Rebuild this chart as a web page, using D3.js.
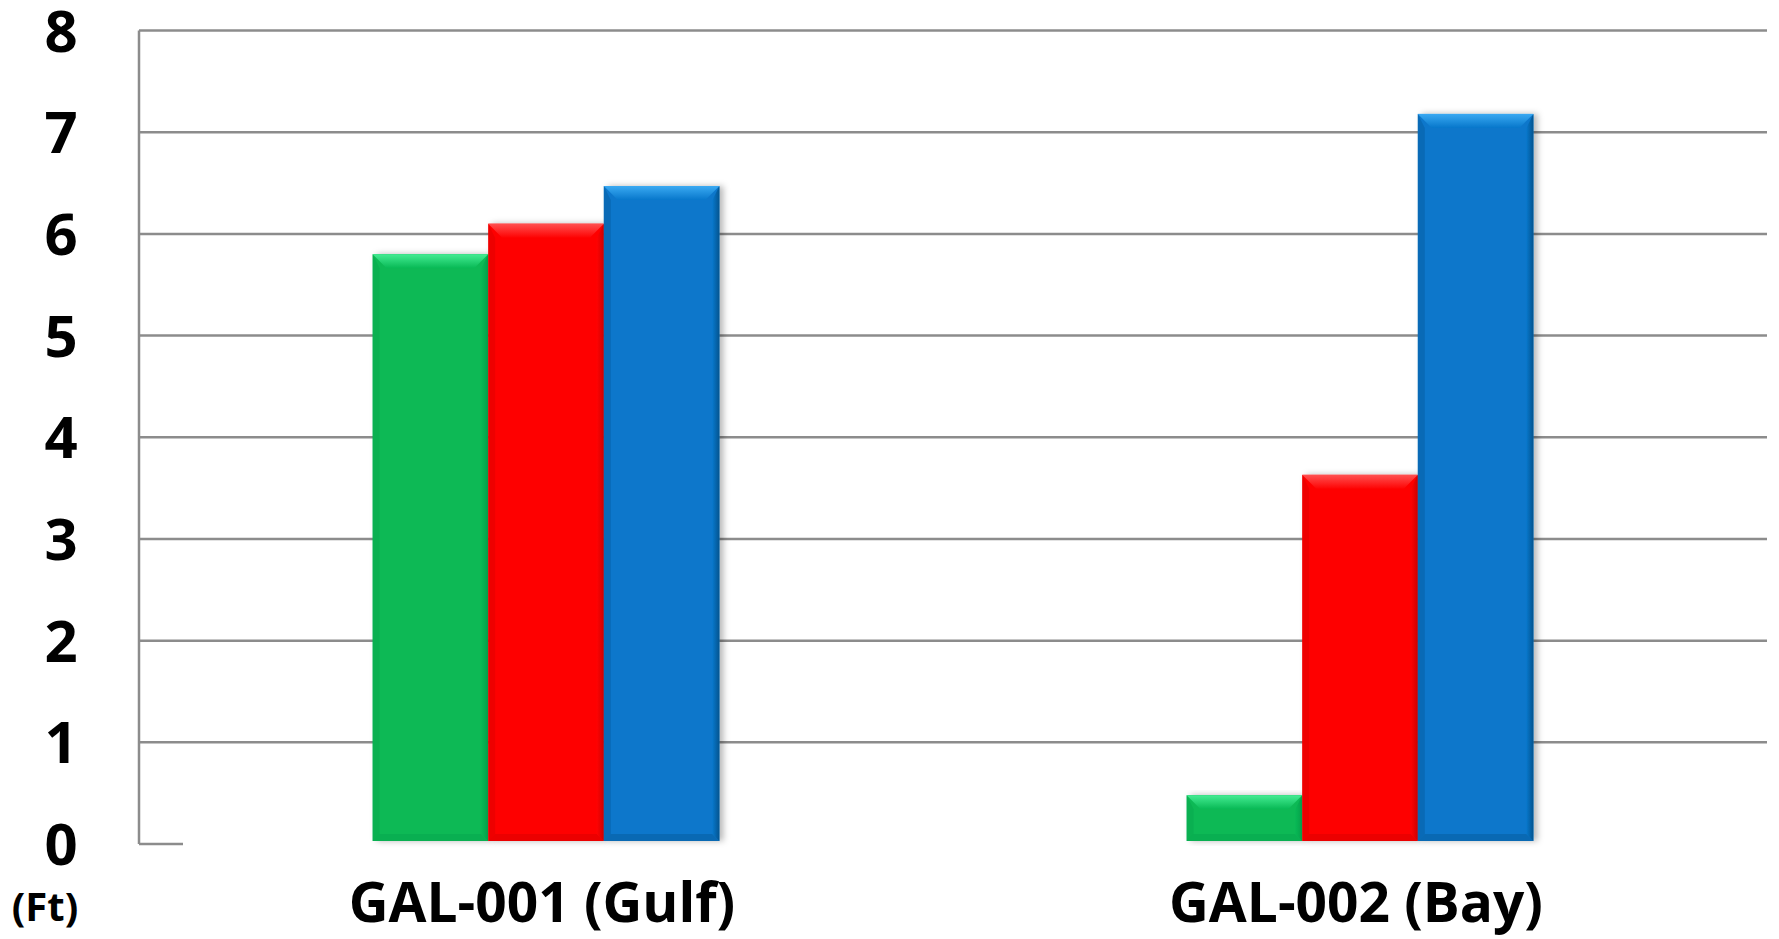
<!DOCTYPE html>
<html>
<head>
<meta charset="utf-8">
<script src="https://cdn.jsdelivr.net/npm/d3@7/dist/d3.min.js"></script>
<style>
  html, body { margin: 0; padding: 0; background: #ffffff; }
  svg { display: block; }
  text { font-family: "Open Sans", "DejaVu Sans", sans-serif; font-weight: 700; fill: #000; }
</style>
</head>
<body>
<svg id="chart" width="1779" height="939"></svg>
<script>
// Water level by gauge station (feet)
const stations = ["GAL-001 (Gulf)", "GAL-002 (Bay)"];
const seriesNames = ["Series A", "Series B", "Series C"];
const seriesA = [5.8, 0.48];
const seriesB = [6.1, 3.63];
const seriesC = [6.47, 7.18];
const yTicks = [0, 1, 2, 3, 4, 5, 6, 7, 8];
const unitLabel = "(Ft)";

const colors = {
  "Series A": { base: "#08b955", light: "#45ec93", dark: "#06a04a" },
  "Series B": { base: "#fe0303", light: "#ff5050", dark: "#d00000" },
  "Series C": { base: "#0777cb", light: "#3aa9f2", dark: "#04548f" }
};

const values = { "Series A": seriesA, "Series B": seriesB, "Series C": seriesC };

const svg = d3.select("#chart");
const plot = { left: 139, right: 1767, top: 30.5, bottom: 844 };

const x0 = d3.scaleBand().domain(stations)
  .range([plot.left, plot.right]).paddingInner(0.574).paddingOuter(0.287);
const x1 = d3.scaleBand().domain(seriesNames).range([0, x0.bandwidth()]).padding(0);
const y = d3.scaleLinear().domain([0, 8]).range([plot.bottom, plot.top]);

const defs = svg.append("defs");
const shadow = defs.append("filter").attr("id", "shadow")
  .attr("x", "-10%").attr("y", "-10%").attr("width", "130%").attr("height", "120%");
shadow.append("feDropShadow").attr("dx", 4).attr("dy", 0).attr("stdDeviation", 3)
  .attr("flood-color", "#000").attr("flood-opacity", 0.28);

seriesNames.forEach((s, i) => {
  const c = colors[s];
  const gTop = defs.append("linearGradient").attr("id", "top" + i)
    .attr("x1", 0).attr("y1", 0).attr("x2", 0).attr("y2", 1);
  gTop.append("stop").attr("offset", "0%").attr("stop-color", c.light);
  gTop.append("stop").attr("offset", "100%").attr("stop-color", c.base);
  const gRight = defs.append("linearGradient").attr("id", "right" + i)
    .attr("x1", 0).attr("y1", 0).attr("x2", 1).attr("y2", 0);
  gRight.append("stop").attr("offset", "0%").attr("stop-color", c.base);
  gRight.append("stop").attr("offset", "100%").attr("stop-color", c.dark);
});

// Horizontal gridlines
svg.append("g").selectAll("line").data(yTicks.filter(d => d > 0)).join("line")
  .attr("x1", plot.left).attr("x2", plot.right)
  .attr("y1", d => y(d)).attr("y2", d => y(d))
  .attr("stroke", "#8c8c8c").attr("stroke-width", 2.5);

// Vertical axis line and short baseline stub
svg.append("line").attr("x1", plot.left).attr("x2", plot.left)
  .attr("y1", y(8)).attr("y2", y(0))
  .attr("stroke", "#8c8c8c").attr("stroke-width", 2.5);
svg.append("line").attr("x1", plot.left).attr("x2", plot.left + 44)
  .attr("y1", y(0)).attr("y2", y(0))
  .attr("stroke", "#8c8c8c").attr("stroke-width", 2.5);

// Y tick labels
svg.append("g").selectAll("text").data(yTicks).join("text")
  .attr("x", 61).attr("y", d => y(d) + 21)
  .attr("text-anchor", "middle").attr("font-size", 58)
  .text(d => d);

// Bevelled bars
const bevelTop = 14, bevelSide = 7;
const groups = svg.append("g").selectAll("g").data(stations).join("g")
  .attr("transform", d => `translate(${x0(d)},0)`);

groups.each(function (st, si) {
  const g = d3.select(this);
  seriesNames.forEach((s, i) => {
    const v = values[s][si];
    const xa = x1(s), xb = x1(s) + x1.bandwidth();
    const yt = y(v), yb = y(0) - 3;
    const c = colors[s];
    const bar = g.append("g");
    bar.append("rect").attr("x", xa).attr("y", yt)
      .attr("width", xb - xa).attr("height", yb - yt)
      .attr("fill", c.base).attr("filter", "url(#shadow)");
    const bt = Math.min(bevelTop, (yb - yt) / 2);
    // left edge
    bar.append("polygon").attr("points",
      [[xa, yt], [xa + bevelSide, yt + bt], [xa + bevelSide, yb - bevelSide], [xa, yb]].join(" "))
      .attr("fill", c.dark).attr("opacity", 0.35);
    // bottom edge
    bar.append("polygon").attr("points",
      [[xa, yb], [xa + bevelSide, yb - bevelSide], [xb - bevelSide, yb - bevelSide], [xb, yb]].join(" "))
      .attr("fill", c.dark).attr("opacity", 0.4);
    // right edge
    bar.append("polygon").attr("points",
      [[xb, yt], [xb, yb], [xb - bevelSide, yb - bevelSide], [xb - bevelSide, yt + bt]].join(" "))
      .attr("fill", `url(#right${i})`);
    // top highlight
    bar.append("polygon").attr("points",
      [[xa, yt], [xb, yt], [xb - bevelSide * 2, yt + bt], [xa + bevelSide * 2, yt + bt]].join(" "))
      .attr("fill", `url(#top${i})`);
  });
});

// Category labels
svg.append("g").selectAll("text").data(stations).join("text")
  .attr("x", d => x0(d) + x0.bandwidth() / 2 - 4).attr("y", 922)
  .attr("text-anchor", "middle").attr("font-size", 55)
  .text(d => d);

// Unit label
svg.append("text").attr("x", 45).attr("y", 921)
  .attr("text-anchor", "middle").attr("font-size", 40)
  .text(unitLabel);
</script>
</body>
</html>
